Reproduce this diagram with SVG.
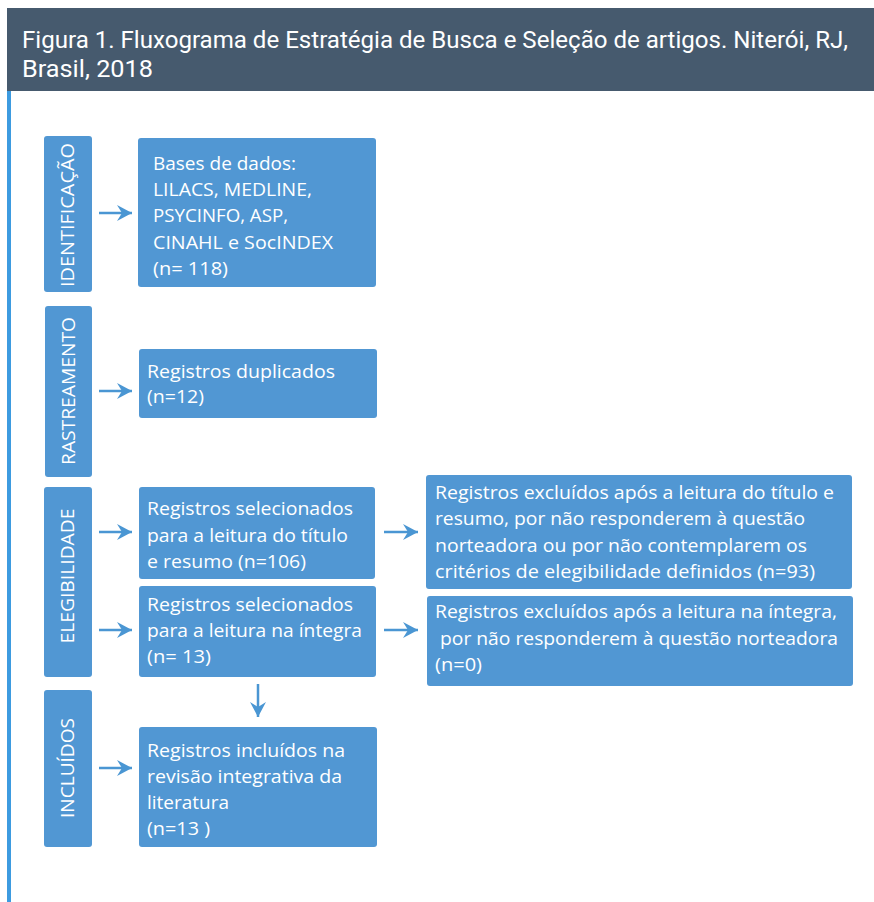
<svg xmlns="http://www.w3.org/2000/svg" width="874" height="902" viewBox="0 0 874 902">
<style>
.box{fill:#5197d3;}
.t{font-family:"Open Sans","Noto Sans",sans-serif;font-size:18px;fill:#ffffff;}
.v{font-family:"Open Sans","Noto Sans",sans-serif;font-size:18px;fill:#ffffff;text-anchor:middle;}
.h{font-family:"Roboto","Open Sans",sans-serif;font-size:24px;fill:#ffffff;}
.c{stroke:#4a96d3;stroke-width:2.5;fill:none;marker-end:url(#ah);}
</style>
<defs>
<marker id="ah" markerUnits="userSpaceOnUse" markerWidth="16" markerHeight="18" refX="15" refY="8" orient="auto">
<path d="M0,0 L15,8 L0,16 L5,8 Z" fill="#4a96d3"/>
</marker>
</defs>
<rect width="874" height="902" fill="#ffffff"/>
<g id="header">
<rect x="7" y="8" width="867" height="83" fill="#465a6e"/>
<text class="h" x="22" y="48" textLength="826" lengthAdjust="spacingAndGlyphs">Figura 1. Fluxograma de Estratégia de Busca e Seleção de artigos. Niterói, RJ,</text>
<text class="h" x="22" y="77" textLength="131" lengthAdjust="spacingAndGlyphs">Brasil, 2018</text>
</g>
<rect id="sidebar" x="7" y="91" width="4" height="811" fill="#3d9be0"/>

<g id="identificacao">
<rect class="box" x="44" y="136" width="48" height="156" rx="3"/>
<text class="v" transform="translate(74,215) rotate(-90)" textLength="144" lengthAdjust="spacingAndGlyphs">IDENTIFICAÇÃO</text>
</g>
<g id="bases">
<rect class="box" x="138" y="138" width="238" height="149" rx="3"/>
<text class="t" x="153" y="170" textLength="143" lengthAdjust="spacingAndGlyphs">Bases de dados:</text>
<text class="t" x="153" y="196" textLength="159" lengthAdjust="spacingAndGlyphs">LILACS, MEDLINE,</text>
<text class="t" x="153" y="222" textLength="135" lengthAdjust="spacingAndGlyphs">PSYCINFO, ASP,</text>
<text class="t" x="153" y="249" textLength="180" lengthAdjust="spacingAndGlyphs">CINAHL e SocINDEX</text>
<text class="t" x="153" y="275" textLength="75" lengthAdjust="spacingAndGlyphs">(n= 118)</text>
</g>

<g id="rastreamento">
<rect class="box" x="45" y="306" width="47" height="171" rx="3"/>
<text class="v" transform="translate(75,391) rotate(-90)" textLength="148" lengthAdjust="spacingAndGlyphs">RASTREAMENTO</text>
</g>
<g id="duplicados">
<rect class="box" x="139" y="349" width="238" height="69" rx="3"/>
<text class="t" x="147" y="378" textLength="188" lengthAdjust="spacingAndGlyphs">Registros duplicados</text>
<text class="t" x="147" y="403" textLength="57" lengthAdjust="spacingAndGlyphs">(n=12)</text>
</g>

<g id="elegibilidade">
<rect class="box" x="44" y="487" width="48" height="190" rx="3"/>
<text class="v" transform="translate(74,576) rotate(-90)" textLength="135" lengthAdjust="spacingAndGlyphs">ELEGIBILIDADE</text>
</g>
<g id="selecionados1">
<rect class="box" x="139" y="487" width="236" height="92" rx="3"/>
<text class="t" x="147" y="515" textLength="206" lengthAdjust="spacingAndGlyphs">Registros selecionados</text>
<text class="t" x="147" y="542" textLength="201" lengthAdjust="spacingAndGlyphs">para a leitura do título</text>
<text class="t" x="147" y="568" textLength="159" lengthAdjust="spacingAndGlyphs">e resumo (n=106)</text>
</g>
<g id="selecionados2">
<rect class="box" x="139" y="586" width="237" height="91" rx="3"/>
<text class="t" x="147" y="611" textLength="206" lengthAdjust="spacingAndGlyphs">Registros selecionados</text>
<text class="t" x="147" y="637" textLength="215" lengthAdjust="spacingAndGlyphs">para a leitura na íntegra</text>
<text class="t" x="147" y="663" textLength="64" lengthAdjust="spacingAndGlyphs">(n= 13)</text>
</g>
<g id="excluidos1">
<rect class="box" x="426" y="475" width="426" height="114" rx="3"/>
<text class="t" x="435" y="499" textLength="399" lengthAdjust="spacingAndGlyphs">Registros excluídos após a leitura do título e</text>
<text class="t" x="435" y="525" textLength="370" lengthAdjust="spacingAndGlyphs">resumo, por não responderem à questão</text>
<text class="t" x="435" y="552" textLength="372" lengthAdjust="spacingAndGlyphs">norteadora ou por não contemplarem os</text>
<text class="t" x="435" y="578" textLength="380" lengthAdjust="spacingAndGlyphs">critérios de elegibilidade definidos (n=93)</text>
</g>
<g id="excluidos2">
<rect class="box" x="427" y="596" width="426" height="90" rx="3"/>
<text class="t" x="435" y="618" textLength="402" lengthAdjust="spacingAndGlyphs">Registros excluídos após a leitura na íntegra,</text>
<text class="t" x="440" y="645" textLength="398" lengthAdjust="spacingAndGlyphs">por não responderem à questão norteadora</text>
<text class="t" x="435" y="671" textLength="47" lengthAdjust="spacingAndGlyphs">(n=0)</text>
</g>

<g id="incluidos">
<rect class="box" x="44" y="690" width="48" height="157" rx="3"/>
<text class="v" transform="translate(74,768) rotate(-90)" textLength="100" lengthAdjust="spacingAndGlyphs">INCLUÍDOS</text>
</g>
<g id="incluidosbox">
<rect class="box" x="139" y="727" width="238" height="120" rx="3"/>
<text class="t" x="147" y="757" textLength="198" lengthAdjust="spacingAndGlyphs">Registros incluídos na</text>
<text class="t" x="147" y="783" textLength="195" lengthAdjust="spacingAndGlyphs">revisão integrativa da</text>
<text class="t" x="147" y="809" textLength="82" lengthAdjust="spacingAndGlyphs">literatura</text>
<text class="t" x="147" y="835" textLength="63" lengthAdjust="spacingAndGlyphs">(n=13 )</text>
</g>

<g id="connectors">
<line class="c" x1="99" y1="213" x2="132" y2="213"/>
<line class="c" x1="99" y1="391" x2="132" y2="391"/>
<line class="c" x1="99" y1="532" x2="132" y2="532"/>
<line class="c" x1="384" y1="532" x2="418" y2="532"/>
<line class="c" x1="99" y1="630" x2="132" y2="630"/>
<line class="c" x1="384" y1="630" x2="418" y2="630"/>
<line class="c" x1="258" y1="684" x2="258" y2="717"/>
<line class="c" x1="99" y1="768" x2="132" y2="768"/>
</g>
</svg>
